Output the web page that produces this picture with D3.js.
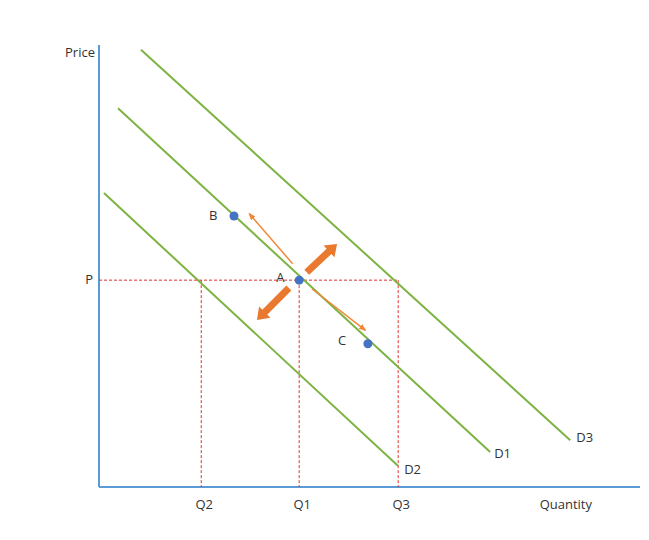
<!DOCTYPE html>
<html><head><meta charset="utf-8">
<script src="https://cdn.jsdelivr.net/npm/d3@7"></script>
<style>body{margin:0;background:#fff}text{font-family:"Open Sans",sans-serif;font-size:13px;fill:#333}</style>
</head><body><svg id="c" width="649" height="540"></svg>
<script>
const demandNames=["D1","D2","D3"];
const demandLines=[[[3.51,85.7],[72.3,7.9]],[[0.92,66.5],[55.3,4.75]],[[7.76,98.9],[87.1,10.6]]];
const priceP=46.8;
const qTicks=["Q2","Q1","Q3"];
const qValues=[18.9,37.0,55.3];
const pointNames=["B","A","C"];
const points=[[24.95,61.3],[37.0,46.8],[49.7,32.4]];
const thinArrows=[[[35.8,50.5],[27.8,61.8]],[[39.4,44.8],[49.2,35.5]]];
const thickArrows=[[[38.4,48.6],[44.0,55.0]],[[35.1,45.0],[29.2,37.8]]];

const svg=d3.select("#c");
const x=d3.scaleLinear().domain([0,100]).range([99,640]);
const y=d3.scaleLinear().domain([0,100]).range([487,45]);
const defs=svg.append("defs");
defs.append("marker").attr("id","ta").attr("viewBox","0 0 10 10").attr("refX",8).attr("refY",5)
 .attr("markerWidth",5).attr("markerHeight",5).attr("orient","auto")
 .append("path").attr("d","M0,1L10,5L0,9z").attr("fill","#f0883a");
svg.append("line").attr("x1",x(0)).attr("x2",x(0)).attr("y1",y(100)).attr("y2",y(0)).attr("stroke","#5b9bd5").attr("stroke-width",2);
svg.append("line").attr("x1",x(0)).attr("x2",x(100)).attr("y1",y(0)).attr("y2",y(0)).attr("stroke","#5b9bd5").attr("stroke-width",2);
const dash="#e03030";
svg.append("line").attr("x1",x(0)).attr("x2",x(qValues[2])).attr("y1",y(priceP)).attr("y2",y(priceP)).attr("stroke",dash).attr("stroke-dasharray","3,2");
qValues.forEach((q,i)=>{
 svg.append("line").attr("x1",x(q)).attr("x2",x(q)).attr("y1",y(priceP)).attr("y2",y(0)).attr("stroke",dash).attr("stroke-dasharray","3,2");
 svg.append("text").attr("x",x(q)+3).attr("y",509).attr("text-anchor","middle").text(qTicks[i]);
});
svg.append("text").attr("x",x(0)-6).attr("y",y(priceP)+4).attr("text-anchor","end").text("P");
svg.append("text").attr("x",x(0)-4).attr("y",57).attr("text-anchor","end").text("Price");
svg.append("text").attr("x",592).attr("y",509).attr("text-anchor","end").text("Quantity");
const lbl=[[4,6],[6,8],[6,2]];
demandLines.forEach((l,i)=>{
 svg.append("line").attr("x1",x(l[0][0])).attr("y1",y(l[0][1])).attr("x2",x(l[1][0])).attr("y2",y(l[1][1])).attr("stroke","#7cb342").attr("stroke-width",2);
 svg.append("text").attr("x",x(l[1][0])+lbl[i][0]).attr("y",y(l[1][1])+lbl[i][1]).text(demandNames[i]);
});
thinArrows.forEach(a=>svg.append("line").attr("x1",x(a[0][0])).attr("y1",y(a[0][1])).attr("x2",x(a[1][0])).attr("y2",y(a[1][1])).attr("stroke","#f0883a").attr("stroke-width",1.5).attr("marker-end","url(#ta)"));
thickArrows.forEach(a=>{
 const x0=x(a[0][0]),y0=y(a[0][1]),x1=x(a[1][0]),y1=y(a[1][1]);
 const dx=x1-x0,dy=y1-y0,L=Math.hypot(dx,dy),ux=dx/L,uy=dy/L,nx=-uy,ny=ux;
 const hw=3.5,hh=8,hl=11,bx=x1-ux*hl,by=y1-uy*hl;
 const p=[[x0+nx*hw,y0+ny*hw],[bx+nx*hw,by+ny*hw],[bx+nx*hh,by+ny*hh],[x1,y1],[bx-nx*hh,by-ny*hh],[bx-nx*hw,by-ny*hw],[x0-nx*hw,y0-ny*hw]];
 svg.append("polygon").attr("points",p.map(d=>d.join(",")).join(" ")).attr("fill","#e8792f");
});
const po=[[-25,4],[-23,2],[-30,1]];
points.forEach((p,i)=>{
 svg.append("circle").attr("cx",x(p[0])).attr("cy",y(p[1])).attr("r",4.5).attr("fill","#4472c4");
 svg.append("text").attr("x",x(p[0])+po[i][0]).attr("y",y(p[1])+po[i][1]).text(pointNames[i]);
});
</script></body></html>
